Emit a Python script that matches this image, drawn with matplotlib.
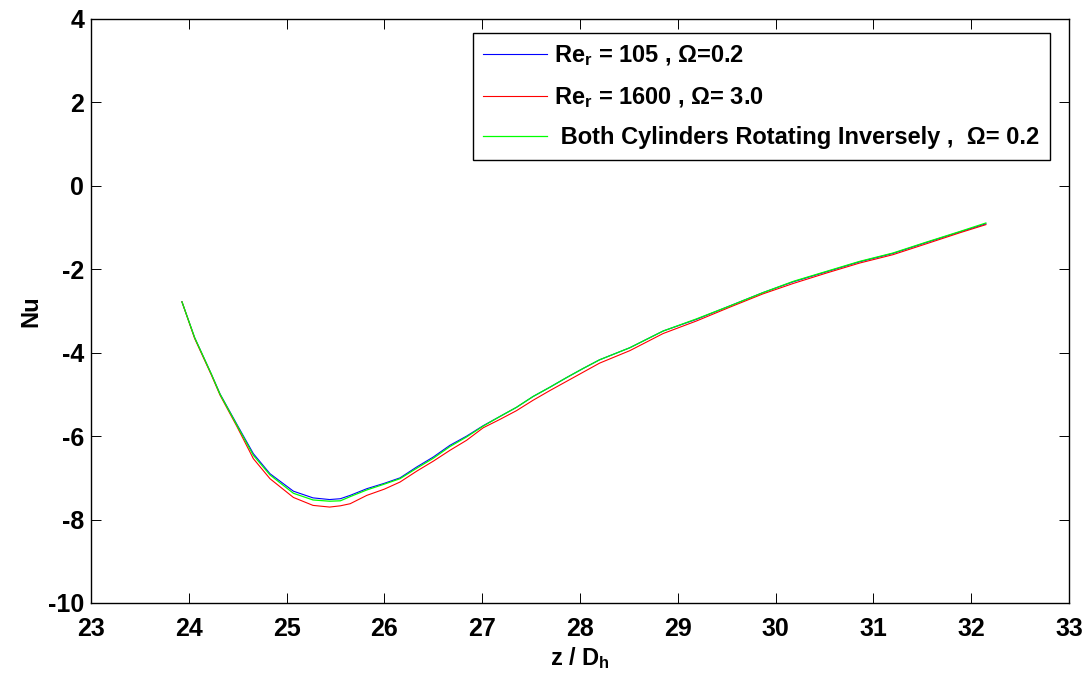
import numpy as np
import matplotlib
matplotlib.use("Agg")
import matplotlib.pyplot as plt

plt.rcParams['font.family'] = ['Liberation Sans', 'DejaVu Sans']
plt.rcParams['font.weight'] = 'bold'
plt.rcParams['axes.unicode_minus'] = False
plt.rcParams['mathtext.fontset'] = 'custom'
plt.rcParams['mathtext.rm'] = 'Liberation Sans:bold'
plt.rcParams['mathtext.it'] = 'Liberation Sans:bold'
plt.rcParams['mathtext.bf'] = 'Liberation Sans:bold'

# axial position z/Dh shared by the three runs
z = [23.93, 24.06, 24.23, 24.32, 24.49, 24.66, 24.83, 25.07, 25.27, 25.44,
     25.55, 25.65, 25.82, 26.00, 26.16, 26.33, 26.50, 26.67, 26.84, 27.01,
     27.18, 27.35, 27.52, 27.69, 27.86, 28.03, 28.20, 28.51, 28.85, 29.19,
     29.53, 29.87, 30.18, 30.52, 30.86, 31.20, 31.54, 31.89, 32.15]

nu_re105 = [-2.78, -3.64, -4.51, -4.99, -5.71, -6.42, -6.90, -7.32, -7.48, -7.52,
            -7.50, -7.42, -7.26, -7.13, -7.00, -6.74, -6.50, -6.22, -6.00, -5.75,
            -5.53, -5.31, -5.05, -4.83, -4.60, -4.38, -4.17, -3.88, -3.48, -3.20,
            -2.88, -2.56, -2.30, -2.06, -1.82, -1.62, -1.36, -1.10, -0.91]

nu_re1600 = [-2.78, -3.66, -4.53, -5.02, -5.76, -6.54, -7.02, -7.47, -7.66, -7.70,
             -7.67, -7.62, -7.42, -7.27, -7.10, -6.84, -6.60, -6.34, -6.10, -5.80,
             -5.60, -5.39, -5.14, -4.91, -4.69, -4.47, -4.25, -3.95, -3.54, -3.24,
             -2.91, -2.59, -2.34, -2.09, -1.85, -1.65, -1.39, -1.12, -0.93]

nu_inverse = [-2.78, -3.64, -4.51, -5.00, -5.73, -6.46, -6.93, -7.37, -7.53, -7.56,
              -7.55, -7.45, -7.29, -7.15, -7.02, -6.77, -6.53, -6.25, -6.02, -5.76,
              -5.53, -5.31, -5.05, -4.83, -4.60, -4.38, -4.17, -3.88, -3.48, -3.19,
              -2.88, -2.56, -2.29, -2.05, -1.81, -1.61, -1.35, -1.09, -0.89]

labels = ['Re$_\\mathrm{r}$ = 105 , Ω=0.2',
          'Re$_\\mathrm{r}$ = 1600 , Ω= 3.0',
          ' Both Cylinders Rotating Inversely ,  Ω= 0.2']

x_ticks = np.arange(23, 34, 1)
y_ticks = np.arange(-10, 5, 2)

W, H = 1089, 675
fig = plt.figure(figsize=(W / 100, H / 100), dpi=100)
ax = fig.add_axes([91 / W, (H - 603) / H, 978 / W, 584 / H])

ax.plot(z, nu_re105, color='#0000ff', lw=0.8, label=labels[0])
ax.plot(z, nu_re1600, color='#ff0000', lw=0.8, label=labels[1])
ax.plot(z, nu_inverse, color='#00ff00', lw=0.9, label=labels[2])

ax.set_xlim(23, 33)
ax.set_ylim(-10, 4)
ax.set_xticks(x_ticks)
ax.set_yticks(y_ticks)
ax.tick_params(direction='in', length=7, width=0.7, top=True, right=True,
               labelsize=18)
ax.tick_params(axis='x', pad=10)
ax.tick_params(axis='y', pad=5)
for sp in ax.spines.values():
    sp.set_linewidth(1.0)

ax.set_xlabel('z / D$_\\mathrm{h}$', fontsize=17, fontweight='bold')
ax.set_ylabel('Nu', fontsize=17, fontweight='bold')
ax.xaxis.set_label_coords(0.5, -0.072)
ax.yaxis.set_label_coords(-0.05, 0.5)

leg = ax.legend(loc='upper right', bbox_to_anchor=(0.9806, 0.976),
                borderaxespad=0, fontsize=17, handlelength=2.7,
                handletextpad=0.3, labelspacing=0.7, borderpad=0.45,
                fancybox=False, framealpha=1, edgecolor='black')
leg.get_frame().set_linewidth(1.0)

fig.savefig('out.png', dpi=100)
